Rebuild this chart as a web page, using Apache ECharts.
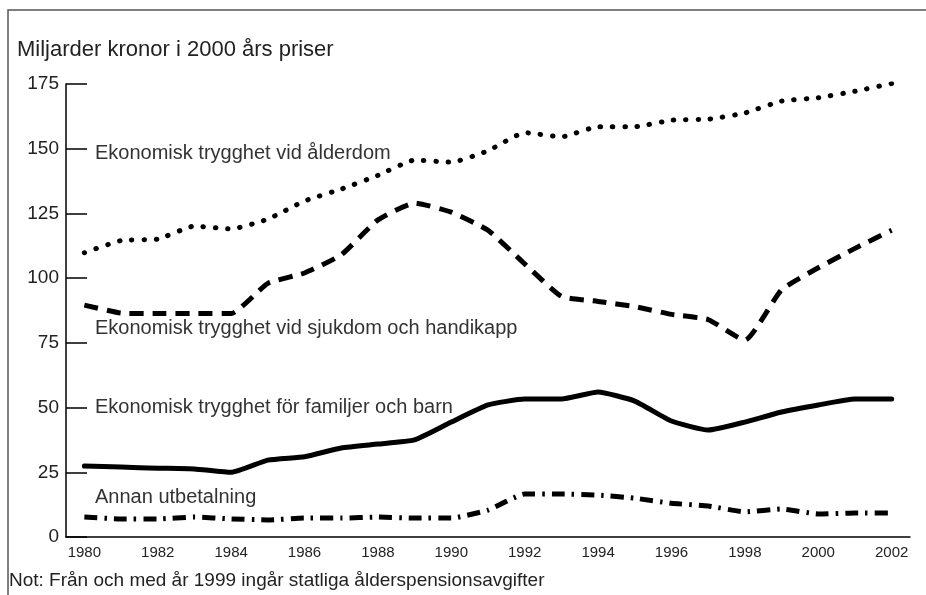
<!DOCTYPE html>
<html>
<head>
<meta charset="utf-8">
<script src="https://cdn.jsdelivr.net/npm/echarts@6/dist/echarts.min.js"></script>
<style>
  html, body { margin: 0; padding: 0; background: #fff; }
  #chart { width: 926px; height: 595px; }
</style>
</head>
<body>
<div id="chart"></div>
<script>
  // år 1980–2002
  var years = ['1980', '1981', '1982', '1983', '1984', '1985', '1986', '1987', '1988', '1989', '1990', '1991',
    '1992', '1993', '1994', '1995', '1996', '1997', '1998', '1999', '2000', '2001', '2002']

  // miljarder kronor, 2000 års priser
  var alderdom = [109.8, 114.5, 115.1, 120.1, 119.0, 122.8, 129.8, 134.4, 139.7, 145.6, 144.8, 149.2,
    156.2, 154.6, 158.5, 158.5, 161.0, 161.4, 163.8, 168.4, 169.7, 172.2, 175.2]
  var sjukdom = [89.6, 86.5, 86.3, 86.3, 86.3, 98.0, 102.0, 109.0, 122.5, 129.0, 125.5, 118.5,
    105.5, 93.0, 91.0, 89.0, 86.0, 84.0, 76.0, 95.5, 104.0, 111.5, 118.5]
  var familjer = [27.4, 27.0, 26.6, 26.3, 25.0, 29.7, 31.0, 34.4, 35.9, 37.5, 44.4, 51.0,
    53.3, 53.3, 56.0, 52.5, 44.8, 41.3, 44.4, 48.3, 51.0, 53.3, 53.3]
  var annan = [7.7, 7.0, 7.0, 7.7, 7.0, 6.6, 7.3, 7.3, 7.7, 7.3, 7.3, 10.4,
    16.6, 16.6, 16.2, 15.0, 13.0, 12.0, 9.7, 10.8, 8.9, 9.3, 9.3]

  var yTicks = [0, 25, 50, 75, 100, 125, 150, 175]

  var chart = echarts.init(document.getElementById('chart'))

  function seriesLine(name, data, type, cap) {
    return {
      name: name,
      type: 'line',
      data: data,
      symbol: 'none',
      smooth: 0.15,
      animation: false,
      lineStyle: {
        color: '#000',
        width: 5,
        type: type,
        cap: cap || 'butt',
        join: 'round'
      }
    }
  }

  var font = '"Liberation Sans", Arial, sans-serif'

  function label(text, top) {
    return {
      type: 'text', left: 95, top: top,
      style: { text: text, fontSize: 20, fontFamily: font, fill: '#333' }
    }
  }

  chart.setOption({
    backgroundColor: '#fff',
    animation: false,
    title: {
      text: 'Miljarder kronor i 2000 års priser',
      left: 12,
      top: 34,
      textStyle: {
        fontFamily: font,
        fontWeight: 'normal',
        fontSize: 22,
        color: '#222'
      }
    },
    grid: {
      left: 66,
      right: 16,
      top: 84,
      bottom: 58
    },
    xAxis: {
      type: 'category',
      data: years,
      boundaryGap: true,
      axisLine: { lineStyle: { color: '#000', width: 1.5 } },
      axisTick: {
        alignWithLabel: true,
        inside: true,
        length: 10,
        interval: 0,
        lineStyle: { color: '#000', width: 1.5 }
      },
      axisLabel: {
        interval: 1,
        margin: 8,
        fontFamily: font,
        fontSize: 15,
        color: '#222'
      },
      splitLine: { show: false }
    },
    yAxis: {
      type: 'value',
      min: yTicks[0],
      max: yTicks[yTicks.length - 1],
      interval: 25,
      axisLine: { show: true, lineStyle: { color: '#000', width: 1.5 } },
      axisTick: {
        show: true,
        inside: true,
        length: 21,
        lineStyle: { color: '#000', width: 1.5 }
      },
      axisLabel: {
        margin: 7,
        fontFamily: font,
        fontSize: 19,
        color: '#222'
      },
      splitLine: { show: false }
    },
    graphic: [
      {
        type: 'rect',
        silent: true,
        shape: { x: 8, y: 10, width: 960, height: 640 },
        style: { fill: 'none', stroke: '#555', lineWidth: 1.5 }
      },
      label('Ekonomisk trygghet vid ålderdom', 143),
      label('Ekonomisk trygghet vid sjukdom och handikapp', 318),
      label('Ekonomisk trygghet för familjer och barn', 397),
      label('Annan utbetalning', 487),
      {
        type: 'text', left: 9, top: 571,
        style: {
          text: 'Not: Från och med år 1999 ingår statliga ålderspensionsavgifter',
          fontSize: 19, fontFamily: font, fill: '#222'
        }
      }
    ],
    series: [
      seriesLine('Ekonomisk trygghet vid ålderdom', alderdom, [0.5, 11.8], 'round'),
      seriesLine('Ekonomisk trygghet vid sjukdom och handikapp', sjukdom, [14, 9]),
      seriesLine('Ekonomisk trygghet för familjer och barn', familjer, 'solid', 'round'),
      seriesLine('Annan utbetalning', annan, [13, 7, 2.5, 7])
    ]
  })
</script>
</body>
</html>
